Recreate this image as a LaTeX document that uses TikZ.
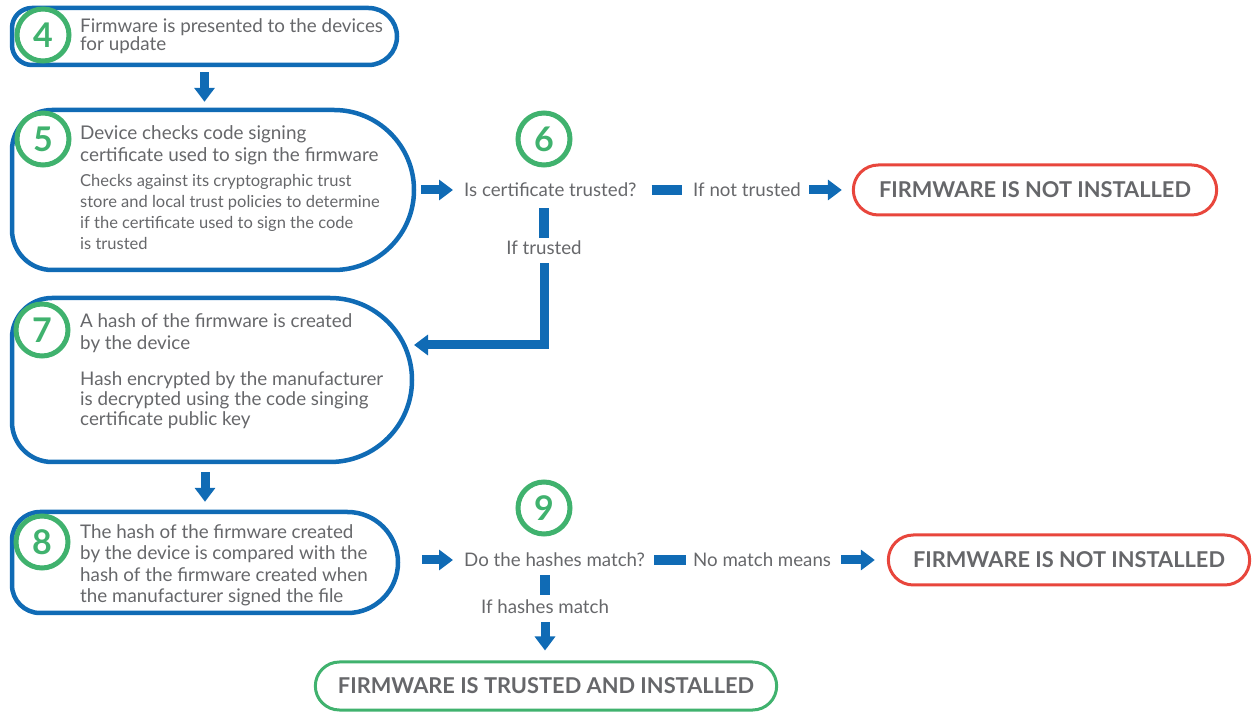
\documentclass[tikz,border=0pt]{standalone}
\usepackage{fontspec}
\setmainfont{Lato}
\usetikzlibrary{arrows.meta,shapes.misc}
\definecolor{flowblue}{RGB}{16,107,181}
\definecolor{stepgreen}{RGB}{64,178,110}
\definecolor{stopred}{RGB}{232,70,60}
\definecolor{txtgray}{RGB}{102,103,106}

% \flowbox{name}{left}{right}{top}{bottom}{left corner radius}
% blue outline, small rounded corners on the left, a half circle on the right
\newcommand\flowbox[6]{%
  \pgfmathsetmacro\fbrad{(#4-#5)/2}%
  \node[inner sep=0, minimum width={(#3-#2)*1pt}, minimum height={(#4-#5)*1pt}]
    (#1) at ({(#2+#3)/2},{(#4+#5)/2}) {};%
  \draw[flowline] ({#2+#6},#4) -- ({#3-\fbrad},#4)
    arc[start angle=90,end angle=-90,radius=\fbrad pt] -- ({#2+#6},#5)
    arc[start angle=270,end angle=180,radius=#6pt] -- (#2,{#4-#6})
    arc[start angle=180,end angle=90,radius=#6pt] -- cycle;%
}

\begin{document}
\begin{tikzpicture}[x=1pt, y=1pt,
  flowline/.style={draw=flowblue, line width=4.5pt},
  stepnum/.style={circle, draw=stepgreen, line width=5pt, fill=white,
    minimum size=52pt, inner sep=0, text=stepgreen,
    font=\bfseries\fontsize{34}{34}\selectfont},
  heading/.style={anchor=west, align=left, inner sep=0, text=txtgray,
    font=\fontsize{18.8}{21.5}\selectfont},
  detail/.style={anchor=west, align=left, inner sep=0, text=txtgray,
    font=\fontsize{16.5}{21}\selectfont},
  flowlabel/.style={inner sep=0, text=txtgray, text height=15pt, text depth=2pt,
    font=\fontsize{18.7}{18.7}\selectfont},
  endpill/.style={rounded rectangle, line width=3pt, fill=white, text=txtgray,
    minimum height=50pt, font=\bfseries\fontsize{21.8}{21.8}\selectfont},
  fatarrow/.style={draw=flowblue, line width=9pt, -{Triangle[width=20pt,length=14pt]}},
  fatbar/.style={draw=flowblue, line width=10pt}
]
\useasboundingbox (0,0) rectangle (1258,712);

% process boxes
\flowbox{b4}{12}{397}{704}{647}{20}
\flowbox{b5}{12}{414}{602}{442}{40}
\flowbox{b7}{12}{412}{414}{250}{40}
\flowbox{b8}{12}{398}{200}{99}{28}

% box texts
\node[heading, font=\fontsize{18.8}{17}\selectfont] (t4) at (80,675.5)
  {Firmware is presented to the devices\\for update};
\node[heading, font=\fontsize{18.9}{22}\selectfont] (t5) at (80,567)
  {Device checks code signing\\certificate used to sign the firmware};
\node[detail] (d5) at (80,500)
  {Checks against its cryptographic trust\\store and local trust policies to determine\\if the certificate used to sign the code\\is trusted};
\node[heading] (t7) at (80,379)
  {A hash of the firmware is created\\by the device};
\node[heading, font=\fontsize{18.8}{20}\selectfont] (d7) at (80,311.5)
  {Hash encrypted by the manufacturer\\is decrypted using the code singing\\certificate public key};
\node[heading] (t8) at (80,146.5)
  {The hash of the firmware created\\by the device is compared with the\\hash of the firmware created when\\the manufacturer signed the file};

% step numbers
\node[stepnum] (c4) at (43,677) {4};
\node[stepnum] (c5) at (43,573) {5};
\node[stepnum] (c7) at (42,382) {7};
\node[stepnum] (c8) at (42,170) {8};
\node[stepnum] (c6) at (544,573) {6};
\node[stepnum] (c9) at (544,204) {9};

% decisions and outcomes
\node[flowlabel, anchor=west] (q6) at (464,522) {Is certificate trusted?};
\node[flowlabel, anchor=west] (nt) at (693,522) {If not trusted};
\node[flowlabel] (ift) at (544,464) {If trusted};
\node[endpill, draw=stopred, minimum width=370pt] (red1) at (1035,522) {FIRMWARE IS NOT INSTALLED};

\node[flowlabel, anchor=west] (q9) at (464,152) {Do the hashes match?};
\node[flowlabel, anchor=west] (nm) at (693,152) {No match means};
\node[flowlabel] (ifm) at (545,105) {If hashes match};
\node[endpill, draw=stopred, minimum width=368pt] (red2) at (1069,152) {FIRMWARE IS NOT INSTALLED};
\node[endpill, draw=stepgreen, minimum width=468pt, minimum height=48pt] (grn) at (546,26) {FIRMWARE IS TRUSTED AND INSTALLED};

% connectors
\draw[fatarrow, shorten <=7pt, shorten >=8pt] (b4.south) -- (b4.south |- b5.north);
\draw[fatarrow, shorten <=7pt, shorten >=11pt] (b5.east) -- (q6.west);
\draw[fatbar, shorten <=15pt, shorten >=11pt] (q6.east) -- (nt.west);
\draw[fatarrow, shorten <=8pt, shorten >=10pt] (nt.east) -- (red1.west);
\draw[fatbar, shorten <=9.5pt, shorten >=1.5pt] (ift.north |- q6.south) -- (ift.north);
\coordinate (j7) at (414,367);
\draw[fatarrow, line join=miter, shorten <=6.5pt] (ift.south) |- (j7);

\draw[fatarrow, shorten <=10pt, shorten >=10pt] (b7.south -| b8.north) -- (b8.north);
\draw[fatarrow, shorten <=24pt, shorten >=11pt] (b8.east |- q9.west) -- (q9.west);
\draw[fatbar, shorten <=9pt, shorten >=7pt] (q9.east) -- (nm.west);
\draw[fatarrow, shorten <=10pt, shorten >=12pt] (nm.east) -- (red2.west);
\draw[fatbar, shorten <=6.5pt, shorten >=3.5pt] (ifm.north |- q9.south) -- (ifm.north);
\draw[fatarrow, shorten <=6.5pt, shorten >=10pt] (ifm.south) -- (ifm.south |- grn.north);
\end{tikzpicture}
\end{document}
